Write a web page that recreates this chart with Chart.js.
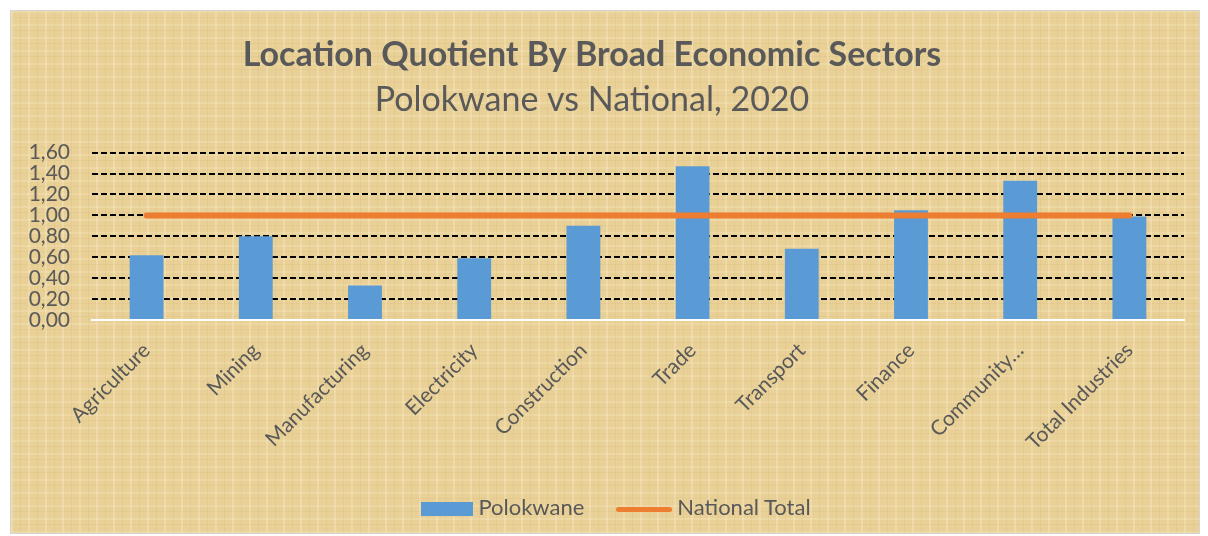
<!DOCTYPE html>
<html>
<head>
<meta charset="utf-8">
<script src="https://cdn.jsdelivr.net/npm/chart.js@4"></script>
<style>
  html, body { margin: 0; padding: 0; background: #fff; }
  #frame {
    position: absolute; left: 10px; top: 10px; width: 1188px; height: 522px;
    border: 1px solid #d4d4d4;
    background-color: #E8D096;
    background-image:
      repeating-linear-gradient(90deg, rgba(255,245,215,0.28) 0 2px, transparent 2px 9px, rgba(190,160,90,0.12) 9px 10px, transparent 10px 17px),
      repeating-linear-gradient(0deg, rgba(255,240,210,0.22) 0 2px, transparent 2px 8px, rgba(200,170,100,0.14) 8px 9px, transparent 9px 13px);
  }
  #wrap { position: absolute; left: 0; top: 0; width: 1208px; height: 536px; }
  #legend {
    position: absolute; left: 12px; top: 490px; width: 1208px; text-align: center;
    font-family: Lato, sans-serif; font-size: 22px; color: #595959;
  }
  #legend span.item { display: inline-block; margin: 0 16px; vertical-align: middle; }
  #legend i { display: inline-block; vertical-align: middle; margin-right: 5px; }
</style>
</head>
<body>
<div id="frame"></div>
<div id="wrap"><canvas id="myChart" width="1208" height="536"></canvas></div>
<div id="legend"></div>
<script>
const categories = ['Agriculture', 'Mining', 'Manufacturing', 'Electricity', 'Construction',
  'Trade', 'Transport', 'Finance', 'Community…', 'Total Industries'];
const polokwane = [0.62, 0.80, 0.33, 0.59, 0.90, 1.47, 0.68, 1.05, 1.33, 0.99];
const nationalTotal = [1.00, 1.00, 1.00, 1.00, 1.00, 1.00, 1.00, 1.00, 1.00, 1.00];

const grey = '#595959';

const ctx = document.getElementById('myChart');
const chart = new Chart(ctx, {
  type: 'bar',
  data: {
    labels: categories,
    datasets: [{
      label: 'Polokwane',
      data: polokwane,
      backgroundColor: '#5B9BD5',
      barPercentage: 0.31,
      categoryPercentage: 1,
      order: 1
    }, {
      type: 'line',
      label: 'National Total',
      data: nationalTotal,
      borderColor: '#ED7D31',
      backgroundColor: '#ED7D31',
      borderWidth: 6,
      borderCapStyle: 'round',
      pointRadius: 0,
      order: 0
    }]
  },
  options: {
    responsive: false,
    animation: false,
    layout: { padding: { left: 0, right: 24, top: 0, bottom: 66 } },
    plugins: {
      legend: { display: false },
      tooltip: { enabled: false },
      title: {
        display: true,
        text: 'Location Quotient By Broad Economic Sectors',
        color: grey,
        font: { family: 'Lato', size: 34, weight: 'bold', lineHeight: 1.2 },
        padding: { top: 35, bottom: 4 }
      },
      subtitle: {
        display: true,
        text: 'Polokwane vs National, 2020',
        color: grey,
        font: { family: 'Lato', size: 34, lineHeight: 1.2 },
        padding: { top: 0, bottom: 32 }
      }
    },
    scales: {
      x: {
        grid: { display: false },
        border: { display: true, color: '#ffffff', width: 2 },
        ticks: {
          color: grey,
          font: { family: 'Lato', size: 21 },
          minRotation: 45,
          maxRotation: 45,
          padding: 10,
          autoSkip: false
        },
        afterFit: function(scale) { scale.height = 150; }
      },
      y: {
        min: 0,
        max: 1.6,
        border: { display: false, dash: [6, 3] },
        grid: {
          drawTicks: false,
          lineWidth: 2,
          color: function(c) { return c.tick && c.tick.value === 0 ? 'rgba(0,0,0,0)' : '#000000'; }
        },
        ticks: {
          stepSize: 0.2,
          autoSkip: false,
          color: grey,
          font: { family: 'Lato', size: 21 },
          padding: 22,
          callback: function(v) { return v.toFixed(2).replace('.', ','); }
        },
        afterFit: function(scale) { scale.width = 92; }
      }
    }
  }
});

// legend built from the datasets
const legend = document.getElementById('legend');
chart.data.datasets.forEach(function(ds) {
  const item = document.createElement('span');
  item.className = 'item';
  const sw = document.createElement('i');
  if (ds.type === 'line') {
    sw.style.cssText = 'width:56px;height:5px;border-radius:3px;background:' + ds.borderColor;
  } else {
    sw.style.cssText = 'width:52px;height:14px;background:' + ds.backgroundColor;
  }
  item.appendChild(sw);
  item.appendChild(document.createTextNode(ds.label));
  legend.appendChild(item);
});
</script>
</body>
</html>
